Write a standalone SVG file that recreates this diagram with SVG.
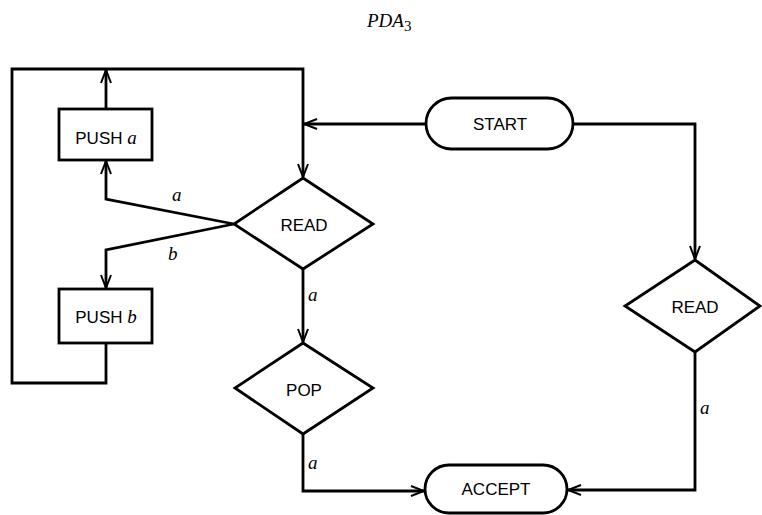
<svg xmlns="http://www.w3.org/2000/svg" width="762" height="515" viewBox="0 0 762 515">
<defs>
<marker id="arr" markerUnits="userSpaceOnUse" viewBox="-14 -7 16 14" refX="0" refY="0" markerWidth="16" markerHeight="14" orient="auto">
<path d="M-13,-5 L0,0 L-13,5 M-10,0 L0,0" fill="none" stroke="#000" stroke-width="2"/>
</marker>
</defs>
<style>
.n{fill:#fff;stroke:#000;stroke-width:2.8;stroke-linejoin:miter}
.c{fill:none;stroke:#000;stroke-width:2.8;stroke-linejoin:miter}
.t{font-family:"Liberation Sans",Arial,sans-serif;font-size:17px;fill:#000;text-anchor:middle}
.i{font-family:"Liberation Serif","Times New Roman",serif;font-style:italic;font-size:19px;fill:#000}
</style>
<rect width="762" height="515" fill="#fff"/>
<text x="367" y="27" class="i" font-size="20">PDA<tspan font-style="normal" font-size="15" dy="4">3</tspan></text>
<g id="connectors">
<path class="c" d="M426,124 L304,124" marker-end="url(#arr)"/>
<path class="c" d="M106,109 L106,70" marker-end="url(#arr)"/>
<path class="c" d="M106,343 L106,383 L12,383 L12,69 L303,69 L303,177" marker-end="url(#arr)"/>
<path class="c" d="M234,224 L106,199 L106,161" marker-end="url(#arr)"/>
<path class="c" d="M234,224 L106,250 L106,288" marker-end="url(#arr)"/>
<path class="c" d="M303,269 L303,342" marker-end="url(#arr)"/>
<path class="c" d="M303,434 L303,491 L424,491" marker-end="url(#arr)"/>
<path class="c" d="M573,124 L695,124 L695,259" marker-end="url(#arr)"/>
<path class="c" d="M695,352 L695,490 L568,490" marker-end="url(#arr)"/>
<text x="172" y="201" class="i">a</text>
<text x="168" y="260" class="i">b</text>
<text x="308" y="301" class="i">a</text>
<text x="308" y="469" class="i">a</text>
<text x="700" y="414" class="i">a</text>
</g>
<g id="start">
<rect class="n" x="426" y="98" width="147" height="51" rx="25.5" ry="25.5"/>
<text x="500" y="130" class="t">START</text>
</g>
<g id="read1">
<polygon class="n" points="303,178 373,224 303,269 234,224"/>
<text x="304" y="231" class="t">READ</text>
</g>
<g id="pusha">
<rect class="n" x="59" y="109" width="93" height="51"/>
<text x="106" y="144" class="t">PUSH <tspan class="i" font-size="18">a</tspan></text>
</g>
<g id="pushb">
<rect class="n" x="59" y="289" width="93" height="54"/>
<text x="106" y="323" class="t">PUSH <tspan class="i" font-size="18">b</tspan></text>
</g>
<g id="pop">
<polygon class="n" points="303,343 373,388 303,434 235,388"/>
<text x="304" y="396" class="t">POP</text>
</g>
<g id="read2">
<polygon class="n" points="695,260 760,306 695,352 625,306"/>
<text x="695" y="313" class="t">READ</text>
</g>
<g id="accept">
<rect class="n" x="425" y="465" width="142" height="48" rx="24" ry="24"/>
<text x="496" y="495" class="t">ACCEPT</text>
</g>
</svg>
